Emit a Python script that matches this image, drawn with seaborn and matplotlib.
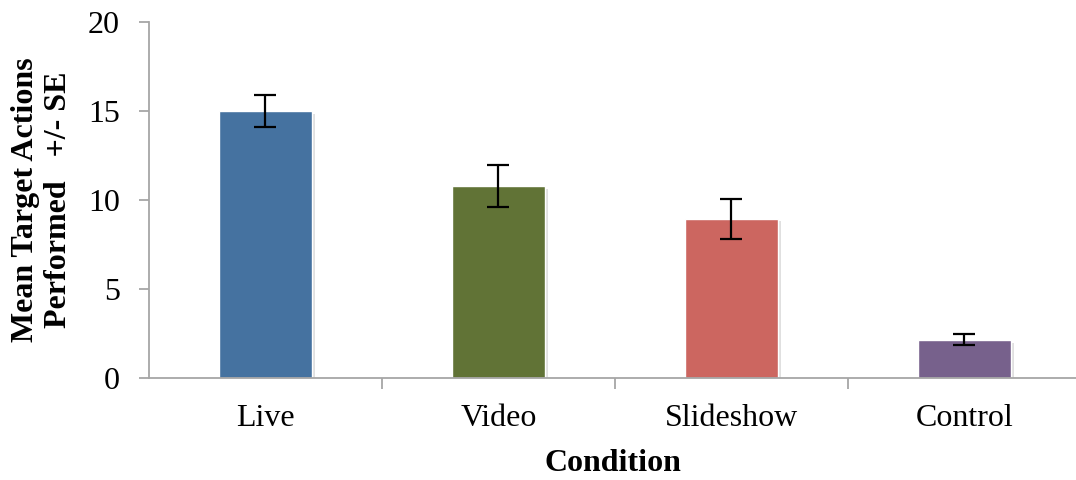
import matplotlib
matplotlib.use("Agg")
import matplotlib.pyplot as plt
import matplotlib.patheffects as pe
import pandas as pd
import seaborn as sns

# mean target actions per condition, +/- SE
conditions = ["Live", "Video", "Slideshow", "Control"]
means = [15.0, 10.8, 8.95, 2.15]
se = [0.9, 1.17, 1.13, 0.31]
colors = ["#4572A0", "#617336", "#CC6660", "#77618C"]

df = pd.DataFrame({"Condition": conditions, "Mean": means, "SE": se})

sns.set_style("white")
plt.rcParams["font.family"] = ["Liberation Serif", "DejaVu Serif"]

fig = plt.figure(figsize=(10.76, 4.8), dpi=100)
ax = fig.add_axes([149 / 1076, 1 - 378 / 480, (1076 - 149) / 1076, (378 - 22) / 480])

sns.barplot(data=df, x="Condition", y="Mean", hue="Condition", palette=colors,
            width=0.4, legend=False, ax=ax, saturation=1)
# soft drop shadow like the spreadsheet bars
for bar in ax.patches:
    bar.set_path_effects([pe.SimplePatchShadow(offset=(2, -2), alpha=0.12, shadow_rgbFace="black"),
                          pe.Normal()])
ax.errorbar(range(len(conditions)), df["Mean"], yerr=df["SE"], fmt="none",
            ecolor="black", elinewidth=1.6, capsize=8, capthick=1.6)

ax.set_ylim(0, 20)
ax.set_yticks([0, 5, 10, 15, 20])
ax.set_xlim(-0.5, 3.48)

# category ticks sit between the bars, like the spreadsheet original
ax.set_xticks([0, 1, 2, 3])
ax.set_xticklabels(conditions)
ax.tick_params(axis="x", which="major", length=0, pad=19, labelsize=23)
ax.set_xticks([0.5, 1.5, 2.5], minor=True)
ax.tick_params(axis="x", which="minor", length=8, width=1.3, color="#a6a6a6",
               direction="out", bottom=True)
ax.tick_params(axis="y", length=7, width=1.3, color="#a6a6a6", direction="out",
               left=True, labelsize=23, pad=14)
for lab in ax.get_xticklabels() + ax.get_yticklabels():
    lab.set_color("black")

for side in ["top", "right"]:
    ax.spines[side].set_visible(False)
for side in ["left", "bottom"]:
    ax.spines[side].set_color("#a6a6a6")
    ax.spines[side].set_linewidth(1.3)

ax.set_xlabel("Condition", fontsize=23, fontweight="bold", labelpad=11, color="black")
ax.set_ylabel("Mean Target Actions\nPerformed   +/- SE", fontsize=23,
              fontweight="bold", labelpad=11, linespacing=1.15, color="black")

plt.savefig("out.png", dpi=100)
